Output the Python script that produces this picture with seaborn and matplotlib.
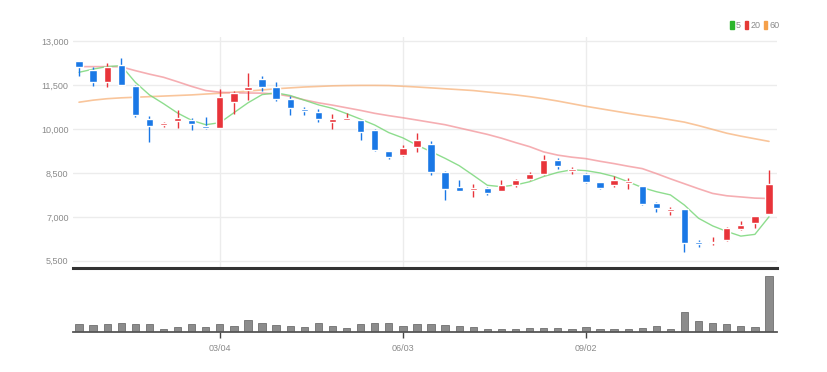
import numpy as np
import pandas as pd
import matplotlib
matplotlib.use("Agg")
import matplotlib.pyplot as plt
from matplotlib.patches import Patch
import seaborn as sns

# weekly candles, Korean colour convention (red up / blue down)
dates = pd.date_range("2018-12-24", periods=50, freq="W-MON")
opens = [12318, 12025, 11602, 12195, 11489, 10354, 10140, 10272, 10296, 10115,
         10047, 10920, 11353, 11718, 11431, 11022, 10695, 10579, 10238, 10306,
         10296, 9955, 9249, 9102, 9386, 9501, 8533, 8022, 7919, 7988,
         7885, 8080, 8284, 8455, 8955, 8567, 8478, 8192, 8079, 8158,
         8045, 7476, 7203, 7251, 6146, 6091, 6204, 6569, 6773, 7090]
highs = [12330, 12113, 12250, 12420, 11500, 10432, 10250, 10637, 10374, 10409,
         11377, 11319, 11909, 11830, 11602, 11148, 10773, 10695, 10524, 10545,
         10310, 10013, 9260, 9443, 9863, 9590, 8567, 8274, 8137, 8022,
         8274, 8308, 8533, 9102, 9023, 8704, 8499, 8200, 8386, 8328,
         8060, 7510, 7319, 7260, 6204, 6296, 6658, 6862, 7040, 8615]
lows = [11830, 11490, 11430, 11500, 10430, 9556, 10080, 10047, 9980, 10013,
        10030, 10524, 11002, 11319, 10978, 10466, 10490, 10238, 10013, 10296,
        9614, 9240, 8990, 9068, 9215, 8420, 7592, 7880, 7680, 7738,
        7880, 8022, 8250, 8420, 8649, 8478, 8158, 7967, 8022, 7967,
        7398, 7169, 7056, 5805, 5955, 6033, 6180, 6545, 6603, 7080]
closes = [12137, 11602, 12137, 11523, 10466, 10091, 10170, 10374, 10160, 10033,
          11090, 11227, 11431, 11431, 11036, 10729, 10627, 10330, 10354, 10364,
          9897, 9273, 9044, 9365, 9614, 8533, 7967, 7885, 7988, 7830,
          8103, 8274, 8455, 8932, 8727, 8625, 8192, 8001, 8250, 8216,
          7455, 7285, 7261, 6091, 6067, 6146, 6624, 6715, 7033, 8137]

ma5 = [11943, 12050, 12140, 12170, 11600, 11170, 10870, 10550, 10300, 10150,
       10220, 10560, 10900, 11180, 11240, 11150, 10990, 10830, 10710, 10530,
       10340, 10140, 9880, 9700, 9450, 9230, 9000, 8750, 8420, 8080,
       8030, 8090, 8200, 8380, 8520, 8610, 8580, 8500, 8380, 8200,
       8000, 7860, 7750, 7400, 6950, 6690, 6500, 6340, 6400, 7000]
ma20 = [12137, 12137, 12137, 12130, 12000, 11880, 11773, 11620, 11460, 11319,
        11261, 11240, 11235, 11230, 11200, 11120, 11000, 10900, 10820, 10730,
        10640, 10540, 10460, 10388, 10310, 10230, 10150, 10040, 9930, 9820,
        9690, 9540, 9400, 9220, 9110, 9040, 8990, 8900, 8820, 8730,
        8649, 8480, 8300, 8130, 7960, 7800, 7720, 7680, 7640, 7626]
ma60 = [10920, 10990, 11040, 11070, 11090, 11110, 11130, 11150, 11170, 11200,
        11227, 11260, 11300, 11340, 11380, 11410, 11440, 11460, 11480, 11490,
        11495, 11495, 11490, 11466, 11440, 11410, 11380, 11350, 11319, 11270,
        11220, 11170, 11110, 11040, 10960, 10870, 10780, 10700, 10620, 10540,
        10466, 10400, 10320, 10238, 10120, 9990, 9860, 9760, 9670, 9580]

volume = [73, 67, 73, 83, 73, 73, 23, 50, 73, 50,
          73, 57, 117, 90, 67, 57, 50, 83, 57, 33,
          73, 90, 83, 57, 75, 73, 63, 57, 47, 27,
          27, 27, 37, 40, 40, 27, 43, 23, 27, 27,
          40, 57, 27, 197, 107, 90, 73, 57, 43, 553]

price_ticks = [5500, 7000, 8500, 10000, 11500, 13000]
date_ticks = ["03/04", "06/03", "09/02"]
ma_labels = ["5", "20", "60"]

UP = "#e8343a"
DOWN = "#1a78e6"
LABEL = "#8a8a8a"

sns.set_theme(style="white")
plt.rcParams["font.family"] = ["Liberation Sans Narrow", "Liberation Sans", "DejaVu Sans"]

fig = plt.figure(figsize=(8.27, 3.72), dpi=100)
ax = fig.add_axes([0.0879, 0.2796, 0.8513, 0.6209])
axv = fig.add_axes([0.0879, 0.1083, 0.8513, 0.1605])

idx = np.arange(len(dates))
o = np.array(opens); c = np.array(closes)
up = c >= o
colors = np.where(up, UP, DOWN)

# moving averages
sns.lineplot(x=idx, y=ma60, color="#f7b27a", alpha=0.75, lw=1.2, ax=ax)
sns.lineplot(x=idx, y=ma20, color="#f28c92", alpha=0.7, lw=1.2, ax=ax)
sns.lineplot(x=idx, y=ma5, color="#7ad77a", alpha=0.85, lw=1.0, ax=ax)

# candles
ax.vlines(idx, lows, highs, colors=colors, lw=1.0, zorder=3)
body = np.maximum(np.abs(c - o), 60)
ax.bar(idx, body, bottom=np.minimum(o, c), width=0.52, color=colors, zorder=4)

ax.set_xlim(-0.45, len(idx) - 0.45)
ax.set_ylim(5250, 13150)
ax.set_yticks(price_ticks)
ax.set_yticklabels([f"{v:,}" for v in price_ticks])
tick_pos = [i for i, d in enumerate(dates) if d.strftime("%m/%d") in date_ticks]
ax.set_xticks(tick_pos)
ax.set_xticklabels([])
ax.grid(True, color="#ececec", lw=1)
ax.tick_params(axis="y", labelsize=6.5, labelcolor=LABEL, length=0, pad=3)
ax.tick_params(axis="x", length=0)
for s in ["top", "right", "left"]:
    ax.spines[s].set_visible(False)
ax.spines["bottom"].set_color("#333333")
ax.spines["bottom"].set_linewidth(2.2)
ax.set_xlabel("")
ax.set_ylabel("")

# volume
sns.barplot(x=idx, y=volume, native_scale=True, color="#8c8c8c", saturation=1,
            width=0.52, edgecolor="#707070", linewidth=0.6, ax=axv)
axv.set_xlim(-0.45, len(idx) - 0.45)
axv.set_ylim(0, max(volume) * 1.07)
axv.set_yticks([])
axv.set_xticks(tick_pos)
axv.set_xticklabels(date_ticks)
axv.tick_params(axis="x", bottom=True, labelsize=6.5, labelcolor=LABEL, length=4,
                width=1, color="#444444", direction="out", pad=5)
for s in ["top", "right", "left"]:
    axv.spines[s].set_visible(False)
axv.spines["bottom"].set_color("#555555")
axv.spines["bottom"].set_linewidth(1.3)
axv.set_xlabel("")
axv.set_ylabel("")

# legend
handles = [Patch(color=col) for col in ["#2cb52c", "#e53935", "#f5a04a"]]
leg = fig.legend(handles, ma_labels, loc="center right", bbox_to_anchor=(0.943, 0.932),
                 ncol=3, frameon=False, fontsize=6.5, handlelength=0.35,
                 handleheight=1.1, handletextpad=0.25, columnspacing=0.45,
                 borderpad=0, borderaxespad=0)
for t in leg.get_texts():
    t.set_color(LABEL)

fig.savefig("out.png", dpi=100, facecolor="white")
